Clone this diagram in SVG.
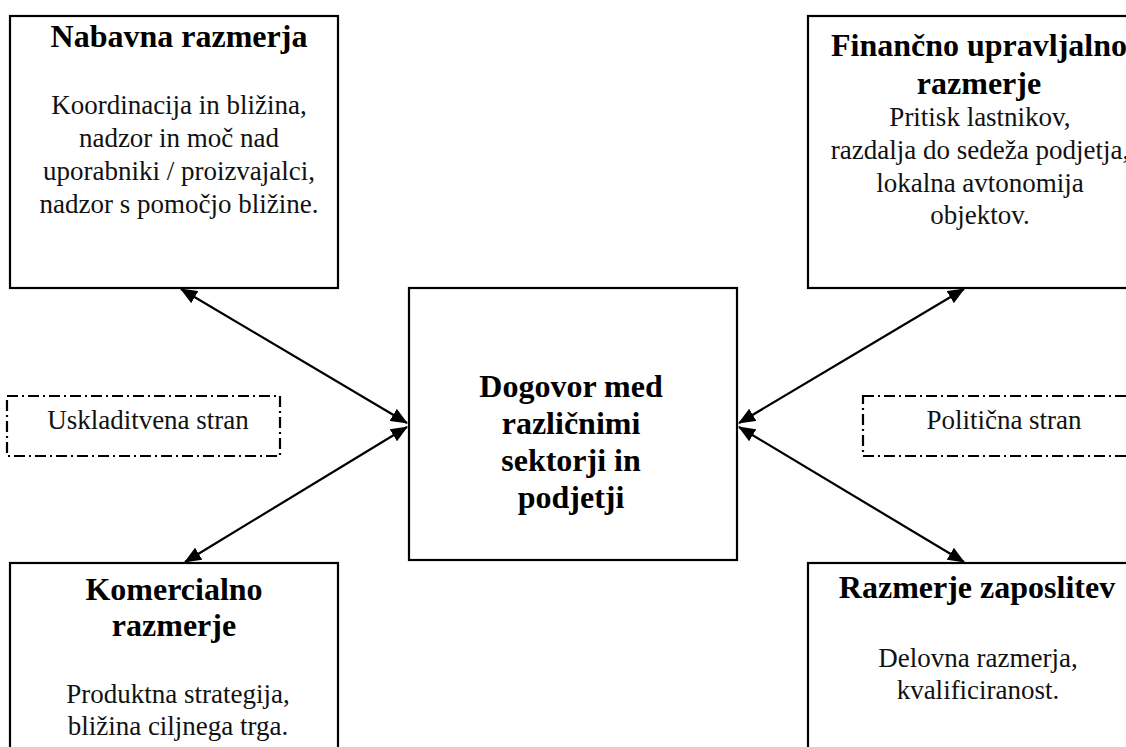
<svg xmlns="http://www.w3.org/2000/svg" width="1126" height="747" viewBox="0 0 1126 747">
<defs>
<style>
.box{fill:#fff;stroke:#000;stroke-width:2.2}
.dash{fill:none;stroke:#000;stroke-width:2.2;stroke-dasharray:11 4 2 4}
.t{font-family:"Liberation Serif","Times New Roman",serif;font-size:32px;font-weight:bold;fill:#000;text-anchor:middle}
.b{font-family:"Liberation Serif","Times New Roman",serif;font-size:27px;fill:#111;text-anchor:middle}
.c{fill:none;stroke:#000;stroke-width:2.2}
</style>
<marker id="ah" viewBox="0 0 17 14" refX="16" refY="7" markerWidth="17" markerHeight="14" markerUnits="userSpaceOnUse" orient="auto-start-reverse">
<path d="M0,0 L17,7 L0,14 z" fill="#000"/>
</marker>
</defs>
<rect width="1126" height="747" fill="#fff"/>
<g id="nabavna">
<rect class="box" x="10" y="16" width="328" height="272"/>
<text class="t" x="179" y="47">Nabavna razmerja</text>
<text class="b" x="179" y="114">Koordinacija in bližina,</text>
<text class="b" x="179" y="147">nadzor in moč nad</text>
<text class="b" x="179" y="180">uporabniki / proizvajalci,</text>
<text class="b" x="179" y="213">nadzor s pomočjo bližine.</text>
</g>
<g id="financno">
<rect class="box" x="808" y="16" width="340" height="272"/>
<text class="t" x="979" y="56">Finančno upravljalno</text>
<text class="t" x="979" y="94">razmerje</text>
<text class="b" x="980" y="126">Pritisk lastnikov,</text>
<text class="b" x="980" y="159">razdalja do sedeža podjetja,</text>
<text class="b" x="980" y="192">lokalna avtonomija</text>
<text class="b" x="980" y="224">objektov.</text>
</g>
<g id="dogovor">
<rect class="box" x="409" y="288" width="328" height="272"/>
<text class="t" x="571" y="397">Dogovor med</text>
<text class="t" x="571" y="434">različnimi</text>
<text class="t" x="571" y="471">sektorji in</text>
<text class="t" x="571" y="508">podjetji</text>
</g>
<g id="uskladitvena">
<rect class="dash" x="7" y="396" width="273" height="60"/>
<text class="b" x="148" y="429">Uskladitvena stran</text>
</g>
<g id="politicna">
<rect class="dash" x="863" y="396" width="280" height="60"/>
<text class="b" x="1004" y="429">Politična stran</text>
</g>
<g id="komercialno">
<rect class="box" x="10" y="563" width="328" height="200"/>
<text class="t" x="174" y="600">Komercialno</text>
<text class="t" x="174" y="636">razmerje</text>
<text class="b" x="178" y="703">Produktna strategija,</text>
<text class="b" x="178" y="735">bližina ciljnega trga.</text>
</g>
<g id="zaposlitev">
<rect class="box" x="808" y="563" width="340" height="200"/>
<text class="t" x="977" y="598">Razmerje zaposlitev</text>
<text class="b" x="978" y="667">Delovna razmerja,</text>
<text class="b" x="978" y="699">kvalificiranost.</text>
</g>
<g id="connectors">
<line class="c" x1="407" y1="423" x2="181" y2="289" marker-start="url(#ah)" marker-end="url(#ah)"/>
<line class="c" x1="407" y1="427" x2="185" y2="562" marker-start="url(#ah)" marker-end="url(#ah)"/>
<line class="c" x1="739" y1="423" x2="964" y2="289" marker-start="url(#ah)" marker-end="url(#ah)"/>
<line class="c" x1="739" y1="427" x2="964" y2="562" marker-start="url(#ah)" marker-end="url(#ah)"/>
</g>
</svg>
